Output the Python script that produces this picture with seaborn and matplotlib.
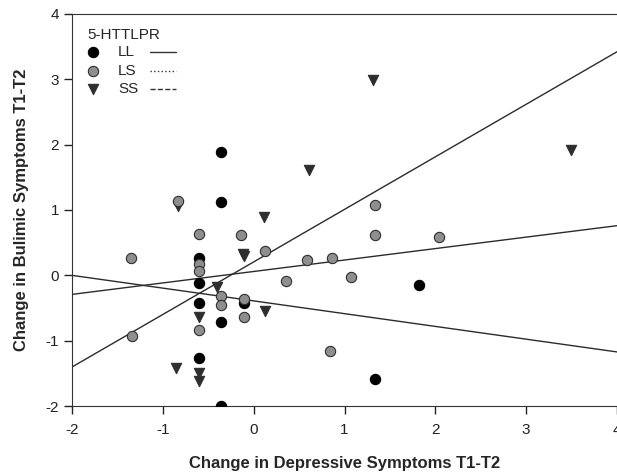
import numpy as np
import pandas as pd
import seaborn as sns
import matplotlib.pyplot as plt

# data
ll_x = [-0.36, -0.36, -0.60, -0.60, -0.60, -0.36, -0.11, -0.60, -0.36, 1.82, 1.34]
ll_y = [1.89, 1.12, 0.26, -0.12, -0.42, -0.71, -0.42, -1.27, -2.00, -0.15, -1.58]

ls_x = [-1.35, -1.34, -0.84, -0.60, -0.60, -0.60, -0.60, -0.36, -0.36, -0.14, -0.11,
        -0.11, 0.12, 0.36, 0.59, 0.86, 1.07, 1.34, 1.34, 2.04, 0.84]
ls_y = [0.26, -0.93, 1.13, 0.63, 0.18, 0.06, -0.84, -0.32, -0.46, 0.62, -0.36,
        -0.63, 0.37, -0.08, 0.23, 0.27, -0.03, 1.08, 0.61, 0.58, -1.15]

ss_x = [1.31, 0.61, -0.84, 0.11, -0.12, -0.11, -0.60, -0.41, -0.60, 0.12, -0.86, -0.60, -0.60, 3.49]
ss_y = [2.98, 1.61, 1.06, 0.90, 0.33, 0.29, 0.17, -0.17, -0.63, -0.55, -1.41, -1.49, -1.62, 1.92]

groups = ['LL', 'LS', 'SS']
# regression lines (intercept, slope) per genotype
intercepts = [-0.39, 0.06, 0.207]
slopes = [-0.195, 0.175, 0.803]

df = pd.DataFrame({
    'dep': ll_x + ls_x + ss_x,
    'bul': ll_y + ls_y + ss_y,
    'geno': ['LL'] * len(ll_x) + ['LS'] * len(ls_x) + ['SS'] * len(ss_x),
})

sns.set_style('ticks')
plt.rcParams['font.family'] = ['Liberation Sans', 'DejaVu Sans']
plt.rcParams['axes.unicode_minus'] = False

fig = plt.figure(figsize=(6.17, 4.74), dpi=100)
ax = fig.add_axes([0.117, 0.143, 0.883, 0.828])

# lines first so points sit on top
xs = np.array([-2.0, 4.0])
for a, b in zip(intercepts, slopes):
    ax.plot(xs, a + b * xs, color='#2b2b2b', lw=1.0, zorder=1)

markers = {'LL': 'o', 'LS': 'o', 'SS': 'v'}
faces = {'LL': 'black', 'LS': '#8e8e8e', 'SS': '#2e2e2e'}
edges = {'LL': 'black', 'LS': '#2e2e2e', 'SS': '#2e2e2e'}
for g in ['SS', 'LL', 'LS']:
    sub = df[df['geno'] == g]
    sns.scatterplot(data=sub, x='dep', y='bul', marker=markers[g], color=faces[g],
                    edgecolor=edges[g], linewidth=0.8, s=55, ax=ax, zorder=3, legend=False)

ax.set_xlim(-2, 4)
ax.set_ylim(-2, 4)
ax.set_xticks(range(-2, 5))
ax.set_yticks(range(-2, 5))
ax.tick_params(labelsize=11, length=6, width=1, colors='#222222')
ax.tick_params(axis='x', pad=6)
for s in ['left', 'bottom', 'top']:
    ax.spines[s].set_color('#333333')
ax.spines['right'].set_visible(False)

ax.set_xlabel('Change in Depressive Symptoms T1-T2', fontsize=12, fontweight='bold', labelpad=14)
ax.set_ylabel('Change in Bulimic Symptoms T1-T2', fontsize=12, fontweight='bold', labelpad=12)

# legend: marker, label, line sample
ax.text(0.027, 0.946, '5-HTTLPR', transform=ax.transAxes, fontsize=11, va='center')
row_y = [0.903, 0.855, 0.809]
styles = ['-', ':', '--']
for g, yy, ls in zip(groups, row_y, styles):
    ax.scatter([0.0385], [yy], transform=ax.transAxes, marker=markers[g], s=55,
               facecolor=faces[g], edgecolor=edges[g], linewidth=0.8, clip_on=False, zorder=4)
    ax.text(0.084, yy, g, transform=ax.transAxes, fontsize=11, va='center')
    ax.plot([0.143, 0.191], [yy, yy], transform=ax.transAxes, color='#333333', lw=1.0, ls=ls)

fig.savefig('out.png', dpi=100)
